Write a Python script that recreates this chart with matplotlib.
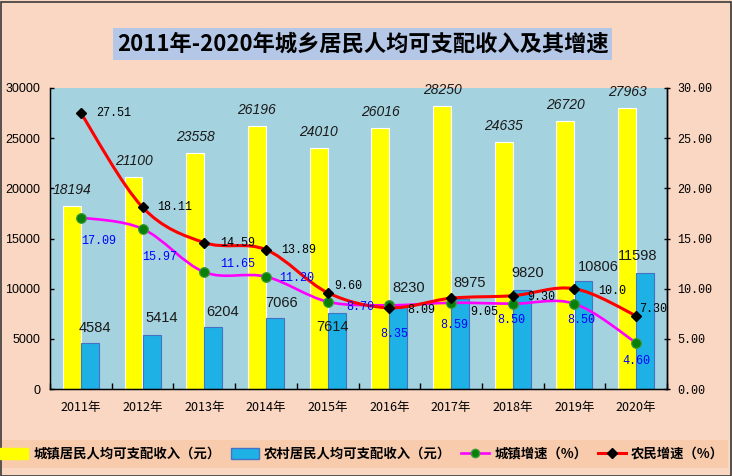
import matplotlib
matplotlib.use("Agg")
import matplotlib.pyplot as plt
from matplotlib.path import Path
from matplotlib.patches import PathPatch, Rectangle, Patch
from matplotlib.lines import Line2D
import numpy as np

years = ["2011年", "2012年", "2013年", "2014年", "2015年", "2016年", "2017年", "2018年", "2019年", "2020年"]
urban_income = [18194, 21100, 23558, 26196, 24010, 26016, 28250, 24635, 26720, 27963]
rural_income = [4584, 5414, 6204, 7066, 7614, 8230, 8975, 9820, 10806, 11598]
urban_growth = [17.09, 15.97, 11.65, 11.20, 8.70, 8.35, 8.59, 8.50, 8.50, 4.60]
rural_growth = [27.51, 18.11, 14.59, 13.89, 9.60, 8.09, 9.05, 9.30, 10.0, 7.30]
rural_growth_text = ["27.51", "18.11", "14.59", "13.89", "9.60", "8.09", "9.05", "9.30", "10.0", "7.30"]
urban_growth_text = ["17.09", "15.97", "11.65", "11.20", "8.70", "8.35", "8.59", "8.50", "8.50", "4.60"]
left_ticks = [0, 5000, 10000, 15000, 20000, 25000, 30000]
right_ticks = [0, 5, 10, 15, 20, 25, 30]

title = "2011年-2020年城乡居民人均可支配收入及其增速"
legend_labels = ["城镇居民人均可支配收入（元）", "农村居民人均可支配收入（元）", "城镇增速（%）", "农民增速（%）"]

# label offsets in pixels (layout only)
rural_lbl_off = [(5, 15), (10, 17), (9, 15), (7, 15), (-4, -14), (10, 18), (10, 16), (6, 17), (15, 14), (-8, 17)]
rg_lbl_off = [(15, 0), (15, 0), (16, 0), (15, 0), (7, 7), (18, -2), (19, -14), (15, -1), (24, -2), (3, 7)]
ug_lbl_off = [(18, -23), (17, -28), (33, 8), (31, -1), (33, -5), (5, -29), (3, -22), (-2, -16), (7, -16), (0, -18)]

W, H = 732, 476
fig = plt.figure(figsize=(W / 100, H / 100), dpi=100)
fig.patch.set_facecolor("#F9D7C3")

cjk = ["Noto Sans CJK SC", "DejaVu Sans"]

# outer border
fig.patches.append(Rectangle((0.5 / W, 0.5 / H), (W - 2) / W, (H - 2) / H, transform=fig.transFigure,
                             fill=False, edgecolor="#3a3a3a", lw=1.2, zorder=0))
# title box
fig.patches.append(Rectangle((113 / W, 1 - 60 / H), (612 - 113) / W, 32 / H, transform=fig.transFigure,
                             facecolor="#B4C7E7", edgecolor="none", zorder=1))
fig.text(362.5 / W, 1 - 44 / H, title, ha="center", va="center", fontsize=16,
         fontweight="bold", family=cjk, color="black")

# legend band
fig.patches.append(Rectangle((2 / W, 1 - 468 / H), (728 - 2) / W, 28 / H, transform=fig.transFigure,
                             facecolor="#F8CBAD", edgecolor="none", zorder=1))

ax = fig.add_axes([50 / W, 1 - 389 / H, 617 / W, (389 - 88) / H])
ax.set_facecolor("#A5D2DF")
x = np.arange(len(years))
off = 0.146
bw = 0.29
ax.bar(x - off, urban_income, bw, color="#FFFF00", edgecolor="white", linewidth=0.8, zorder=2)
ax.bar(x + off, rural_income, bw, color="#1EB1E6", edgecolor="#4472C4", linewidth=0.8, zorder=2)
ax.set_xlim(-0.5, len(years) - 0.5)
ax.set_ylim(0, 30000)
ax.set_yticks(left_ticks)
ax.set_yticklabels([str(t) for t in left_ticks], family="Liberation Sans", fontsize=9)
ax.set_xticks(x)
ax.set_xticklabels(years, family=cjk, fontsize=9)
ax.set_xticks(np.arange(len(years) + 1) - 0.5, minor=True)
ax.tick_params(axis="x", which="major", length=0, pad=9)
ax.tick_params(axis="x", which="minor", direction="in", length=4, width=1)
ax.tick_params(axis="y", direction="in", length=3, width=1, pad=7)
ax.spines["top"].set_visible(False)
for s in ["left", "bottom", "right"]:
    ax.spines[s].set_linewidth(1.0)

for i, v in enumerate(urban_income):
    ax.annotate(str(v), (x[i] - off, v), xytext=(0, 16), textcoords="offset pixels",
                ha="center", va="center", fontsize=10, style="italic", family="Liberation Sans",
                color="#1a1a1a", zorder=6)
for i, v in enumerate(rural_income):
    dx, dy = rural_lbl_off[i]
    ax.annotate(str(v), (x[i] + off, v), xytext=(dx, dy), textcoords="offset pixels",
                ha="center", va="center", fontsize=10.5, family="Liberation Sans",
                color="#1a1a1a", zorder=6)

ax2 = ax.twinx()
ax2.set_ylim(0, 30)
ax2.set_yticks(right_ticks)
ax2.set_yticklabels(["%.2f" % t for t in right_ticks], family="Liberation Mono", fontsize=8.5)
ax2.tick_params(axis="y", direction="inout", length=5, width=1, pad=5)
ax2.spines["top"].set_visible(False)
ax2.spines["right"].set_linewidth(1.0)


def smooth_path(xs, ys):
    pts = np.column_stack([xs, ys]).astype(float)
    n = len(pts)
    verts = [pts[0]]
    codes = [Path.MOVETO]
    for i in range(n - 1):
        p0 = pts[i - 1] if i > 0 else pts[i]
        p1 = pts[i]
        p2 = pts[i + 1]
        p3 = pts[i + 2] if i + 2 < n else pts[i + 1]
        c1 = p1 + (p2 - p0) / 6.0
        c2 = p2 - (p3 - p1) / 6.0
        verts += [c1, c2, p2]
        codes += [Path.CURVE4] * 3
    return Path(verts, codes)


ax2.add_patch(PathPatch(smooth_path(x, urban_growth), facecolor="none", edgecolor="#FF00FF", lw=1.9, zorder=3))
ax2.plot(x, urban_growth, ls="none", marker="o", ms=7, mfc="#0A800A", mec="#3C9A3C", mew=0.8, zorder=4)
ax2.add_patch(PathPatch(smooth_path(x, rural_growth), facecolor="none", edgecolor="#FF0000", lw=2.2, zorder=3))
ax2.plot(x, rural_growth, ls="none", marker="D", ms=5.5, mfc="black", mec="black", zorder=5)

for i, v in enumerate(rural_growth):
    dx, dy = rg_lbl_off[i]
    ax2.annotate(rural_growth_text[i], (x[i], v), xytext=(dx, dy), textcoords="offset pixels",
                 ha="left", va="center", fontsize=8.5, family="Liberation Mono", color="black", zorder=6)
for i, v in enumerate(urban_growth):
    dx, dy = ug_lbl_off[i]
    ax2.annotate(urban_growth_text[i], (x[i], v), xytext=(dx, dy), textcoords="offset pixels",
                 ha="center", va="center", fontsize=8.5, family="Liberation Mono", color="#0000FF", zorder=6)

handles = [
    Patch(facecolor="#FFFF00", edgecolor="#FFFF00"),
    Patch(facecolor="#1EB1E6", edgecolor="#4472C4"),
    Line2D([], [], color="#FF00FF", lw=1.9, marker="o", ms=6, mfc="#0A800A", mec="#3C9A3C"),
    Line2D([], [], color="#FF0000", lw=2.2, marker="D", ms=5, mfc="black", mec="black"),
]
fig.legend(handles, legend_labels, loc="center", bbox_to_anchor=(362 / W, 1 - 454 / H), ncol=4,
           frameon=False, prop={"family": cjk, "size": 9.6, "weight": "bold"},
           handlelength=2.1, handleheight=0.9, handletextpad=0.4, columnspacing=0.75)

fig.savefig("out.png", dpi=100, facecolor=fig.get_facecolor())
